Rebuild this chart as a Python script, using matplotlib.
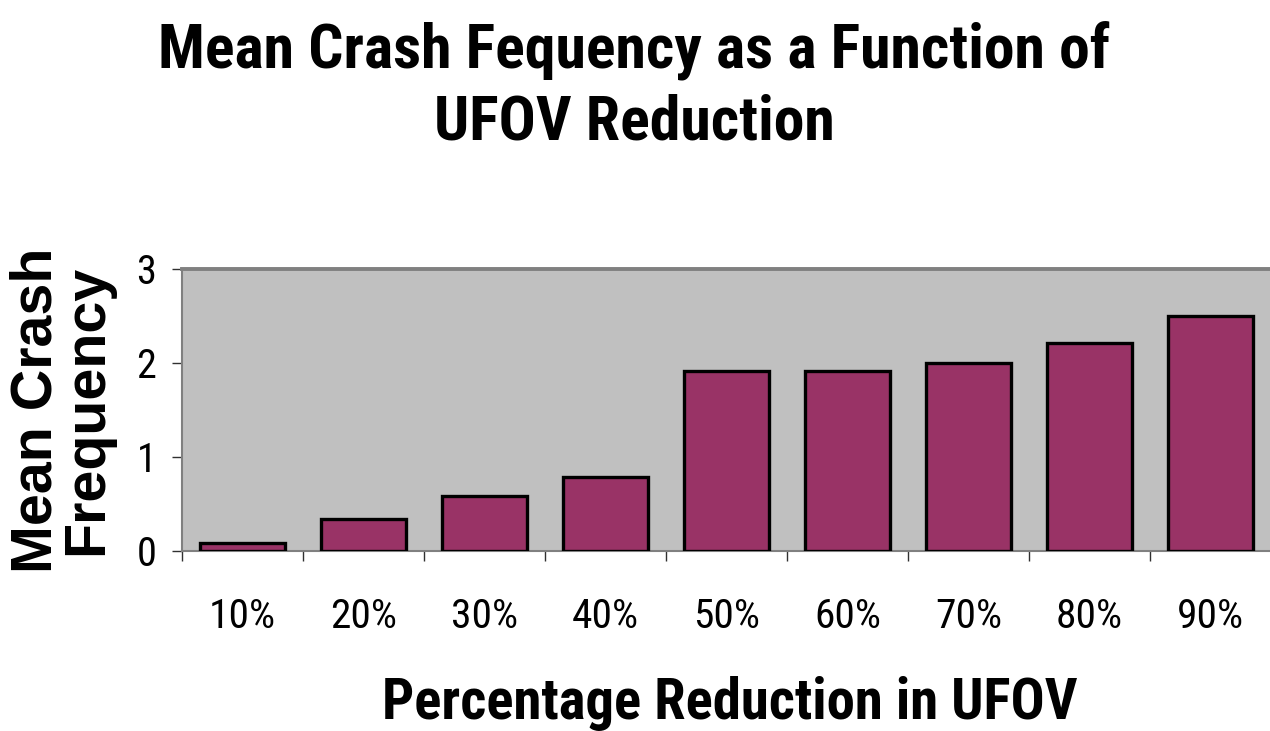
import matplotlib
matplotlib.use("Agg")
import matplotlib.pyplot as plt
from matplotlib import font_manager
import numpy as np

# Data
categories = ["10%", "20%", "30%", "40%", "50%", "60%", "70%", "80%", "90%"]
mean_crash = [0.08, 0.34, 0.58, 0.79, 1.92, 1.92, 2.0, 2.21, 2.5]
y_ticks = [0, 1, 2, 3]

W, H = 1270, 731


def pick_font(names):
    # first family that is really installed
    for name in names:
        try:
            font_manager.findfont(name, fallback_to_default=False)
            return name
        except ValueError:
            pass
    return "DejaVu Sans"


narrow = pick_font(["Liberation Sans Narrow", "Arial Narrow", "Roboto Condensed",
                    "Open Sans Condensed", "Noto Sans Condensed", "Liberation Sans"])
wide = pick_font(["Liberation Sans", "DejaVu Sans"])
plt.rcParams["font.family"] = [narrow, "DejaVu Sans"]

fig = plt.figure(figsize=(W / 100, H / 100), dpi=100)
ax = fig.add_axes([182 / W, 1 - 551 / H, 1089 / W, 282 / H])

x = np.arange(len(categories))
ax.bar(x, mean_crash, width=0.7, color="#993366", edgecolor="black", linewidth=2.4, zorder=3)

ax.set_facecolor("#C0C0C0")
ax.set_xlim(-0.5, len(categories) - 0.5)
ax.set_ylim(0, 3)

# grey frame like the old Excel chart
for side in ["top", "left", "bottom"]:
    ax.spines[side].set_color("#808080")
ax.spines["top"].set_linewidth(2.8)
ax.spines["left"].set_linewidth(1.5)
ax.spines["bottom"].set_linewidth(1.5)
ax.spines["right"].set_visible(False)

# y axis
ax.set_yticks(y_ticks)
ax.set_yticklabels([str(t) for t in y_ticks], fontsize=29)
ax.tick_params(axis="y", direction="out", length=7.5, width=1, color="#303030", pad=11)

# x axis: labels centred on bars, tick marks at category boundaries
ax.set_xticks(x)
ax.set_xticklabels(categories, fontsize=29)
ax.tick_params(axis="x", which="major", length=0, pad=33)
ax.set_xticks(np.arange(len(categories) + 1) - 0.5, minor=True)
ax.tick_params(axis="x", which="minor", direction="out", length=7.5, width=1, color="#303030")

ax.set_xlabel("Percentage Reduction in UFOV", fontsize=40, fontweight="bold", va="baseline")
ax.xaxis.set_label_coords(0.503, (551 - 719) / 282)

ax.set_ylabel("Mean Crash\nFrequency", fontsize=40, fontweight="bold",
              family=[wide, "DejaVu Sans"], linespacing=0.92, va="center")
ax.yaxis.set_label_coords((62 - 182) / 1089, 0.5)

title1 = fig.text(634 / W, 1 - 68 / H, "Mean Crash Fequency as a Function of",
                  ha="center", va="baseline", fontsize=54, fontweight="bold")
title2 = fig.text(634 / W, 1 - 140 / H, "UFOV Reduction",
                  ha="center", va="baseline", fontsize=54, fontweight="bold")

# scale text sizes so their widths match the reference picture
fig.canvas.draw()
r = fig.canvas.get_renderer()


def fit(t, target, vertical=False):
    bb = t.get_window_extent(r)
    size = bb.height if vertical else bb.width
    return t.get_fontsize() * target / size


s = fit(title1, 952)
title1.set_fontsize(s)
title2.set_fontsize(s)

xl = ax.xaxis.label
xl.set_fontsize(fit(xl, 695))

yl = ax.yaxis.label
yl.set_fontsize(fit(yl, 325, vertical=True))

probe = fig.text(0, 0, "10%", fontsize=29)
xs = fit(probe, 67)
probe.remove()
for lab in ax.get_xticklabels():
    lab.set_fontsize(xs)

fig.savefig("out.png", dpi=100)
